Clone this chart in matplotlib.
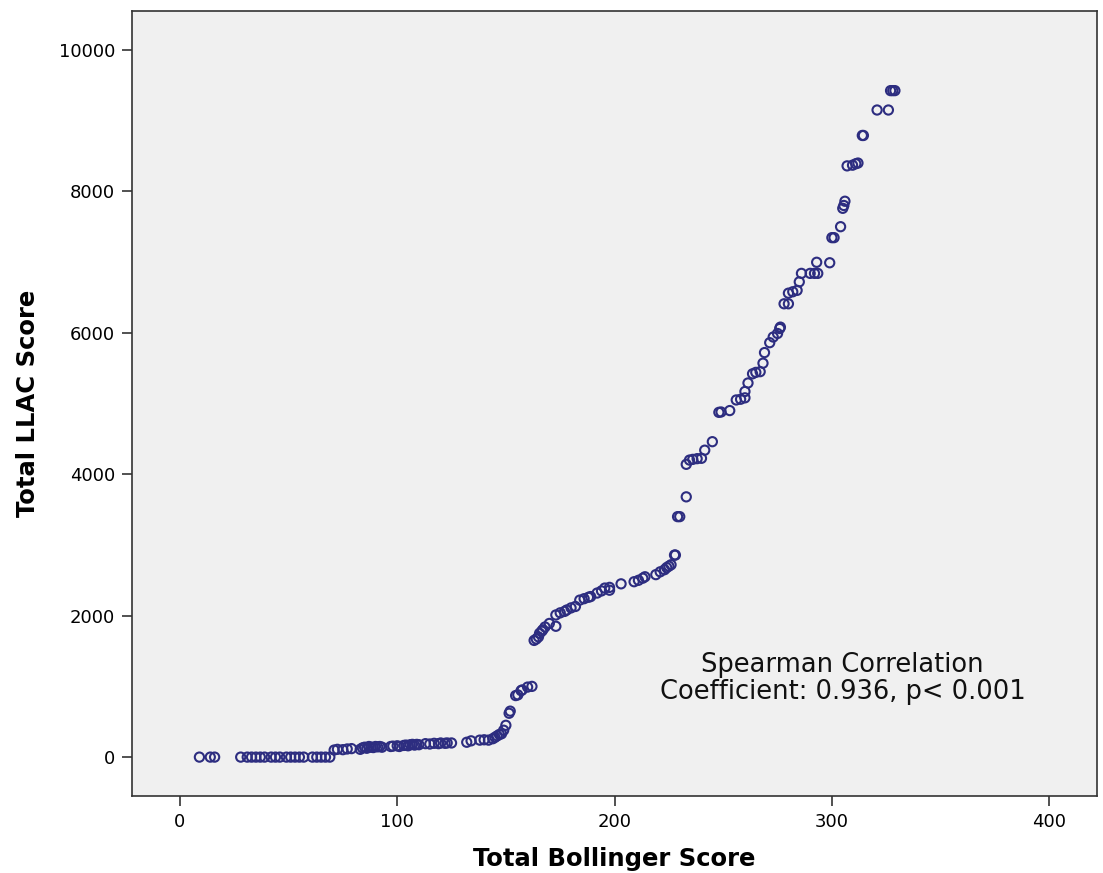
import numpy as np
import matplotlib.pyplot as plt

# Total Bollinger Score vs Total LLAC Score
bollinger = [
    9, 14, 16, 28, 31, 33, 35, 37, 39, 42, 44, 46, 49, 51, 53, 55, 57, 61, 63, 65, 67, 69,
    71, 72.5, 75, 77, 79, 83, 84, 85, 86, 87, 88, 89, 90, 91, 92, 93,
    97, 98, 100, 101, 103, 104, 105, 106, 107, 108, 109, 110,
    113, 115, 117, 119, 120, 122, 123, 125, 132, 134,
    138, 140, 142, 144, 145, 146, 147, 148, 149, 150, 151.5, 152,
    154.5, 155.5, 157, 157.5, 160, 162,
    163, 164, 165, 165.5, 166.5, 167, 168, 170, 173, 173, 175, 177,
    178, 180, 182, 184, 186, 188, 189, 192, 194, 195.5, 197.7, 197.7,
    203, 209, 211, 213, 214, 219, 221, 223, 224, 225, 226, 227.6, 228,
    229, 230, 233, 233, 234.5, 236, 238, 240, 241.5, 245, 248, 249, 253,
    256, 258, 260, 260, 261.4, 263.5, 265, 267, 268.3, 269, 271.4, 273, 275,
    276.3, 276, 278, 280, 280, 282, 284, 285, 286, 290, 292, 293.5, 293, 299,
    300, 301, 304, 305, 305.5, 306, 307, 309.5, 311, 312, 314, 314.5,
    320.8, 326, 327, 328, 329,
]
llac = [
    0, 0, 0, 0, 0, 0, 0, 0, 0, 0, 0, 0, 0, 0, 0, 0, 0, 0, 0, 0, 0, 0,
    100, 110, 105, 115, 120, 110, 130, 140, 125, 150, 140, 135, 150, 145, 150, 140,
    150, 155, 160, 150, 165, 170, 160, 175, 180, 170, 180, 175,
    190, 185, 195, 190, 200, 195, 200, 200, 210, 230,
    240, 245, 240, 260, 280, 300, 320, 330, 380, 450, 620, 650,
    870, 880, 940, 950, 990, 1000,
    1650, 1670, 1700, 1750, 1780, 1800, 1840, 1890, 1850, 2010, 2040, 2060,
    2080, 2110, 2130, 2220, 2240, 2260, 2270, 2320, 2350, 2390, 2400, 2360,
    2450, 2480, 2500, 2530, 2550, 2580, 2620, 2650, 2680, 2700, 2720, 2857, 2857,
    3400, 3400, 3680, 4140, 4200, 4210, 4220, 4225, 4340, 4460, 4875, 4880, 4900,
    5050, 5060, 5080, 5170, 5290, 5420, 5440, 5450, 5570, 5720, 5860, 5940, 5990,
    6080, 6060, 6410, 6410, 6560, 6580, 6600, 6720, 6840, 6840, 6840, 6840, 6997, 6990,
    7345, 7345, 7500, 7760, 7800, 7860, 8360, 8370, 8390, 8400, 8790, 8790,
    9150, 9150, 9424, 9424, 9424,
]

x_ticks = [0, 100, 200, 300, 400]
y_ticks = [0, 2000, 4000, 6000, 8000, 10000]
note = "Spearman Correlation\nCoefficient: 0.936, p< 0.001"

navy = '#2d2d80'
edge = '#333333'

fig = plt.figure(figsize=(11.03, 8.73), dpi=100)
ax = fig.add_axes([0.1197, 0.0882, 0.8749, 0.8992])
ax.set_facecolor('#f0f0f0')

ax.scatter(bollinger, llac, s=44, facecolors='none', edgecolors=navy, linewidths=1.5, zorder=3)

ax.set_xlim(-22, 422)
ax.set_ylim(-550, 10550)
ax.set_xticks(x_ticks)
ax.set_yticks(y_ticks)
ax.tick_params(direction='out', length=7, width=1.2, color=edge, labelsize=13, pad=5)
for s in ax.spines.values():
    s.set_color(edge)
    s.set_linewidth(1.2)

ax.set_xlabel('Total Bollinger Score', fontsize=17.5, fontweight='bold', labelpad=12)
ax.set_ylabel('Total LLAC Score', fontsize=17.5, fontweight='bold', labelpad=14)

ax.text(305, 1117, note, ha='center', va='center', multialignment='center',
        fontsize=18.5, linespacing=1.05, color='#111111')

fig.savefig('out.png', dpi=100)
